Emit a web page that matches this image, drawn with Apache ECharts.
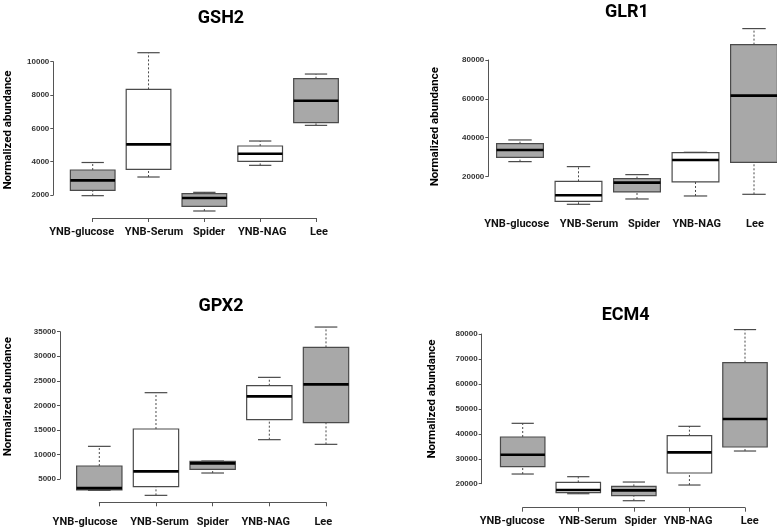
<!DOCTYPE html>
<html>
<head>
<meta charset="utf-8">
<script src="https://cdn.jsdelivr.net/npm/echarts@6/dist/echarts.min.js"></script>
<style>
html,body{margin:0;padding:0;background:#fff;}
#chart{width:777px;height:531px;}
</style>
</head>
<body>
<div id="chart"></div>
<script>
// ---- data ----
const categories = ['YNB-glucose', 'YNB-Serum', 'Spider', 'YNB-NAG', 'Lee'];
const genes = ['GSH2', 'GLR1', 'GPX2', 'ECM4'];
const yName = 'Normalized abundance';
// each entry: [lower whisker, Q1, median, Q3, upper whisker]
const gsh2Stats = [
  [1960, 2280, 2880, 3500, 3950],
  [3080, 3540, 5040, 8340, 10540],
  [1040, 1320, 1820, 2080, 2160],
  [3780, 4020, 4480, 4940, 5240],
  [6180, 6340, 7660, 8980, 9260]
];
const glr1Stats = [
  [27570, 29800, 33590, 36860, 38750],
  [5550, 7100, 10200, 17420, 24990],
  [8300, 11920, 16730, 18800, 20860],
  [9850, 17080, 28430, 32210, 32380],
  [10710, 27220, 61620, 87940, 96200]
];
const gpx2Stats = [
  [2700, 2800, 3150, 7650, 11650],
  [1670, 3440, 6560, 15180, 22580],
  [6220, 6970, 8190, 8600, 8660],
  [13010, 17080, 21830, 24000, 25700],
  [12060, 16470, 24280, 31810, 35950]
];
const ecm4Stats = [
  [23880, 26820, 31630, 38720, 44200],
  [15990, 16390, 17460, 20530, 22810],
  [13180, 15190, 17330, 18930, 20670],
  [19470, 24280, 32570, 39250, 43000],
  [33100, 34710, 45940, 68530, 81770]
];
const gsh2Ticks = [2000, 10000, 2000];   // min, max, step
const glr1Ticks = [20000, 80000, 20000];
const gpx2Ticks = [5000, 35000, 5000];
const ecm4Ticks = [20000, 80000, 10000];

// ---- styles / layout ----
const boxFills = ['#a8a8a8', '#ffffff', '#a8a8a8', '#ffffff', '#a8a8a8'];
const FONT = 'Roboto';
const panels = [
  {stats: gsh2Stats, ticks: gsh2Ticks, grid: {left: 92.7, top: 61.7, width: 223.3, height: 133.3}, yOff: 39.4, xOff: 23, xLine: true, lblMargin: 9, lblShift: [-11, 5.5, 4.7, 2, 3], name: [8.3, 130], title: [216, 4]},
  {stats: glr1Stats, ticks: glr1Ticks, grid: {left: 520, top: 60, width: 234, height: 116.3}, yOff: 31.7, xOff: 38, xLine: false, lblMargin: 4, lblShift: [-3.3, 10.5, 7, 1.2, 1], name: [435, 126.7], title: [622, -2]},
  {stats: gpx2Stats, ticks: gpx2Ticks, grid: {left: 99.3, top: 331.7, width: 226.7, height: 147.3}, yOff: 39.3, xOff: 23.3, xLine: true, lblMargin: 14, lblShift: [-14.3, 3.5, 0, -3.5, -2.7], name: [8, 396.7], title: [216, 292]},
  {stats: ecm4Stats, ticks: ecm4Ticks, grid: {left: 522.7, top: 334, width: 222.3, height: 149.7}, yOff: 41, xOff: 24, xLine: true, lblMargin: 8.5, lblShift: [-10.5, 9.3, 6.7, -1.3, 4.7], name: [431.7, 399], title: [620.7, 301]}
];

const chart = echarts.init(document.getElementById('chart'), null, {renderer: 'canvas'});

function renderBox(params, api) {
  const x = api.value(0);
  const lo = api.coord([x, api.value(1)]);
  const q1 = api.coord([x, api.value(2)]);
  const md = api.coord([x, api.value(3)]);
  const q3 = api.coord([x, api.value(4)]);
  const hi = api.coord([x, api.value(5)]);
  const step = api.coord([x + 1, api.value(1)])[0] - lo[0];
  const w = 0.8 * step;
  const cx = lo[0];
  const half = w / 2, capHalf = w / 4;
  const fill = boxFills[params.dataIndex];
  const edge = '#4a4a4a';
  return {
    type: 'group',
    children: [
      {type: 'line', shape: {x1: cx, y1: q3[1], x2: cx, y2: hi[1]}, style: {stroke: edge, lineWidth: 1, lineDash: [2, 2]}},
      {type: 'line', shape: {x1: cx, y1: lo[1], x2: cx, y2: q1[1]}, style: {stroke: edge, lineWidth: 1, lineDash: [2, 2]}},
      {type: 'line', shape: {x1: cx - capHalf, y1: hi[1], x2: cx + capHalf, y2: hi[1]}, style: {stroke: edge, lineWidth: 1.2}},
      {type: 'line', shape: {x1: cx - capHalf, y1: lo[1], x2: cx + capHalf, y2: lo[1]}, style: {stroke: edge, lineWidth: 1.2}},
      {type: 'rect', shape: {x: cx - half, y: q3[1], width: w, height: q1[1] - q3[1]}, style: {fill: fill, stroke: edge, lineWidth: 1.2}},
      {type: 'line', shape: {x1: cx - half, y1: md[1], x2: cx + half, y2: md[1]}, style: {stroke: '#000', lineWidth: 2.6}}
    ]
  };
}

const option = {
  backgroundColor: '#fff',
  animation: false,
  title: [], grid: [], xAxis: [], yAxis: [], series: [], graphic: []
};

panels.forEach((p, i) => {
  option.title.push({
    text: genes[i], left: p.title[0], top: p.title[1], textAlign: 'center',
    textStyle: {fontFamily: FONT, fontWeight: 700, fontSize: 18, color: '#000'}
  });
  option.graphic.push({
    type: 'text', x: p.name[0], y: p.name[1], rotation: Math.PI / 2,
    style: {text: yName, align: 'center', verticalAlign: 'middle', fill: '#000',
      font: '700 11.5px Roboto'}
  });
  const rich = {};
  p.lblShift.forEach((s, k) => {
    rich['s' + k] = {
      fontFamily: FONT, fontWeight: 700, fontSize: 11, color: '#111',
      padding: s >= 0 ? [0, 0, 0, 2 * s] : [0, -2 * s, 0, 0]
    };
  });
  option.grid.push(Object.assign({containLabel: false}, p.grid));
  option.xAxis.push({
    gridIndex: i, type: 'category', data: categories, boundaryGap: false, offset: p.xOff,
    axisLine: {show: p.xLine, lineStyle: {color: '#555', width: 1}},
    axisTick: {show: p.xLine, length: 4, interval: 0, lineStyle: {color: '#555'}},
    splitLine: {show: false},
    axisLabel: {
      interval: 0, hideOverlap: false, margin: p.lblMargin,
      formatter: (v, idx) => '{s' + idx + '|' + v + '}',
      rich: rich,
      fontFamily: FONT, fontWeight: 700, fontSize: 11, color: '#111'
    }
  });
  option.yAxis.push({
    gridIndex: i, type: 'value', min: p.ticks[0], max: p.ticks[1], interval: p.ticks[2], offset: p.yOff,
    axisLine: {show: true, lineStyle: {color: '#555', width: 1}},
    axisTick: {show: true, length: 3, lineStyle: {color: '#555'}},
    splitLine: {show: false},
    axisLabel: {
      showMinLabel: true, showMaxLabel: true, margin: 4,
      formatter: v => String(v),
      fontFamily: 'Liberation Sans', fontWeight: 700, fontSize: 8, color: '#333'
    }
  });
  option.series.push({
    type: 'custom', xAxisIndex: i, yAxisIndex: i, clip: false,
    renderItem: renderBox,
    encode: {x: 0, y: [1, 2, 3, 4, 5]},
    data: p.stats.map((s, k) => [k].concat(s))
  });
});

chart.setOption(option);
</script>
</body>
</html>
